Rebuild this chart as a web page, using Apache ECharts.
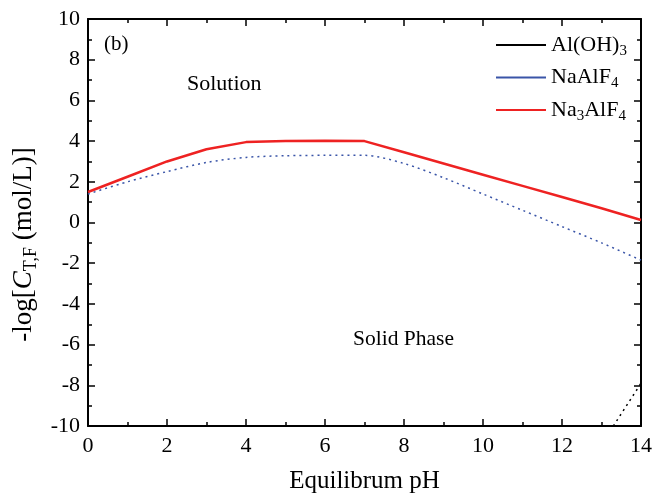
<!DOCTYPE html>
<html>
<head>
<meta charset="utf-8">
<script src="https://cdn.jsdelivr.net/npm/echarts@6/dist/echarts.min.js"></script>
<style>
  html, body { margin: 0; padding: 0; background: #fff; }
  #chart { width: 665px; height: 499px; }
</style>
</head>
<body>
<div id="chart"></div>
<script>
// pH values and -log C for each solid
const ph = [0, 1, 2, 3, 4, 5, 6, 7, 8, 9, 10, 11, 12, 13, 14];
const na3alf4 = [1.5, 2.25, 3.0, 3.6, 3.95, 4.0, 4.02, 4.0, 3.45, 2.9, 2.35, 1.8, 1.25, 0.7, 0.12];
const naalf4 = [1.4, 2.0, 2.5, 2.95, 3.2, 3.28, 3.3, 3.3, 2.9, 2.2, 1.4, 0.6, -0.2, -1.0, -1.85];
const aloh3Ph = [13.3, 14];
const aloh3 = [-10, -7.9];

const chart = echarts.init(document.getElementById("chart"));
const serif = "Liberation Serif";
const pair = (xs, ys) => xs.map((x, i) => [x, ys[i]]);

const axisCommon = {
  axisLine: { show: true, onZero: false, lineStyle: { color: "#000", width: 2 } },
  axisTick: { show: true, inside: true, length: 7, lineStyle: { color: "#000", width: 1.5 } },
  minorTick: { show: true, splitNumber: 2, length: 4, lineStyle: { color: "#000", width: 1.5 } },
  splitLine: { show: false },
};

const option = {
  animation: false,
  grid: { left: 88, right: 24, top: 19, bottom: 73 },
  legend: {
    top: 29,
    left: 491,
    orient: "vertical",
    icon: "rect",
    itemWidth: 50,
    itemHeight: 2,
    itemGap: 8,
    textStyle: {
      fontFamily: serif,
      fontSize: 22,
      color: "#000",
      rich: {
        n: { fontFamily: serif, fontSize: 22, color: "#000" },
        s: { fontFamily: serif, fontSize: 15, color: "#000", padding: [12, 0, 0, 0] },
      },
    },
    formatter: (name) => ({
      "Al(OH)3": "{n|Al(OH)}{s|3}",
      "NaAlF4": "{n|NaAlF}{s|4}",
      "Na3AlF4": "{n|Na}{s|3}{n|AlF}{s|4}",
    })[name],
    data: ["Al(OH)3", "NaAlF4", "Na3AlF4"],
  },
  xAxis: [
    Object.assign({}, axisCommon, {
      type: "value",
      min: 0, max: 14, interval: 2,
      name: "Equilibrum pH",
      nameLocation: "middle",
      nameGap: 43,
      nameTextStyle: { fontFamily: serif, fontSize: 25, color: "#000" },
      axisLabel: { fontFamily: serif, fontSize: 22, color: "#000", margin: 9 },
    }),
    Object.assign({}, axisCommon, {
      type: "value", position: "top",
      min: 0, max: 14, interval: 2,
      axisLabel: { show: false },
    }),
  ],
  yAxis: [
    Object.assign({}, axisCommon, {
      type: "value",
      min: -10, max: 10, interval: 2,
      name: "{a|-log[}{c|C}{s|T,F}{a| (mol/L)]}",
      nameLocation: "middle",
      nameGap: 37,
      nameTextStyle: {
        padding: [0, 44, 0, 0],
        rich: {
          a: { fontFamily: serif, fontSize: 27, color: "#000" },
          c: { fontFamily: serif, fontSize: 27, color: "#000", fontStyle: "italic" },
          s: { fontFamily: serif, fontSize: 18, color: "#000", padding: [14, 0, 0, 0] },
        },
      },
      axisLabel: { fontFamily: serif, fontSize: 22, color: "#000", margin: 8 },
    }),
    Object.assign({}, axisCommon, {
      type: "value", position: "right",
      min: -10, max: 10, interval: 2,
      axisLabel: { show: false },
    }),
  ],
  graphic: [
    { type: "text", left: 104, top: 34, style: { text: "(b)", font: "21px " + serif, fill: "#000" } },
    { type: "text", left: 187, top: 73, style: { text: "Solution", font: "22px " + serif, fill: "#000" } },
    { type: "text", left: 353, top: 328, style: { text: "Solid Phase", font: "21.5px " + serif, fill: "#000" } },
  ],
  series: [
    {
      name: "Al(OH)3", type: "line", showSymbol: false, clip: true,
      data: pair(aloh3Ph, aloh3),
      lineStyle: { color: "#000", width: 1.5, type: [2, 4] },
      itemStyle: { color: "#000" },
    },
    {
      name: "NaAlF4", type: "line", showSymbol: false, smooth: 0.3,
      data: pair(ph, naalf4),
      lineStyle: { color: "#3a55a8", width: 1.5, type: [2, 4] },
      itemStyle: { color: "#3a55a8" },
    },
    {
      name: "Na3AlF4", type: "line", showSymbol: false,
      data: pair(ph, na3alf4),
      lineStyle: { color: "#ee2222", width: 2.5 },
      itemStyle: { color: "#ee2222" },
    },
  ],
};
chart.setOption(option);
</script>
</body>
</html>
